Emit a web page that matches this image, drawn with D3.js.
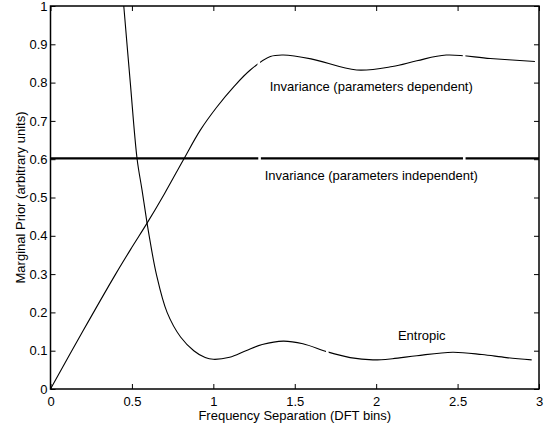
<!DOCTYPE html>
<html><head><meta charset="utf-8">
<script src="https://cdn.jsdelivr.net/npm/d3@7"></script>
<style>
body{margin:0;background:#fff;}
text{font-family:"Liberation Sans",Arial,sans-serif;fill:#000;}
</style></head>
<body><svg id="c" width="550" height="432"></svg>
<script>
// Data
const entropicX = [0.45,0.49,0.532,0.562,0.593,0.606,0.65,0.716,0.8,0.88,0.95,1.0,1.1,1.2,1.3,1.43,1.55,1.7,1.84,1.98,2.1,2.25,2.47,2.65,2.8,2.955];
const entropicY = [1.0,0.8,0.6,0.52,0.433,0.4,0.3,0.2,0.135,0.1,0.082,0.0775,0.083,0.1,0.116,0.125,0.118,0.097,0.082,0.076,0.079,0.087,0.096,0.09,0.082,0.076];
const dependentX = [0,0.2,0.4,0.5,0.593,0.7,0.818,0.92,1.023,1.125,1.227,1.35,1.43,1.6,1.88,2.1,2.25,2.43,2.7,2.975];
const dependentY = [0,0.152,0.30,0.37,0.433,0.51,0.6,0.676,0.737,0.789,0.833,0.868,0.872,0.862,0.833,0.842,0.857,0.872,0.863,0.855];
const independentX = [0,3];
const independentY = [0.602,0.602];
const lineBreaks = {dependent:[1.279,2.54], independent:[1.284,2.541], entropic:[1.70]};
const xTicks = [0,0.5,1,1.5,2,2.5,3];
const yTicks = [0,0.1,0.2,0.3,0.4,0.5,0.6,0.7,0.8,0.9,1];
const labels = [
  {text:"Invariance (parameters dependent)", x:1.97, y:0.79},
  {text:"Invariance (parameters independent)", x:1.97, y:0.557},
  {text:"Entropic", x:2.28, y:0.139}
];
const xTitle = "Frequency Separation (DFT bins)";
const yTitle = "Marginal Prior (arbitrary units)";

const svg = d3.select("#c");
const L=50.5, R=539, T=6, B=389;
const x = d3.scaleLinear().domain([0,3]).range([L,R]);
const y = d3.scaleLinear().domain([0,1]).range([B,T]);
const fmt = d => String(+d.toFixed(2));

svg.append("defs").append("clipPath").attr("id","plot")
  .append("rect").attr("x",L).attr("y",T).attr("width",R-L).attr("height",B-T);

function addMask(id, breaks){
  const m = svg.select("defs").append("mask").attr("id",id).attr("maskUnits","userSpaceOnUse")
    .attr("x",0).attr("y",0).attr("width",550).attr("height",432);
  m.append("rect").attr("x",0).attr("y",0).attr("width",550).attr("height",432).attr("fill","#fff");
  breaks.forEach(b=>{
    m.append("rect").attr("x",x(b)-1.3).attr("y",0).attr("width",2.6).attr("height",432).attr("fill","#000");
  });
}
addMask("mDep", lineBreaks.dependent);
addMask("mInd", lineBreaks.independent);
addMask("mEnt", lineBreaks.entropic);

const line = d3.line().x(d=>x(d[0])).y(d=>y(d[1])).curve(d3.curveCatmullRom.alpha(0.5));
const g = svg.append("g").attr("clip-path","url(#plot)");
g.append("path").datum(d3.zip(dependentX,dependentY)).attr("d",line)
  .attr("fill","none").attr("stroke","#000").attr("stroke-width",1.1).attr("mask","url(#mDep)");
g.append("path").datum(d3.zip(entropicX,entropicY)).attr("d",line)
  .attr("fill","none").attr("stroke","#000").attr("stroke-width",1.1).attr("mask","url(#mEnt)");
g.append("path").datum(d3.zip(independentX,independentY)).attr("d",d3.line().x(d=>x(d[0])).y(d=>y(d[1])))
  .attr("fill","none").attr("stroke","#000").attr("stroke-width",2.2).attr("mask","url(#mInd)");

// Axes (ticks inward), plus mirrored top/right
const tl = 5;
const ax = svg.append("g").attr("transform",`translate(0,${B})`)
  .call(d3.axisBottom(x).tickValues(xTicks).tickFormat(fmt).tickSizeInner(-tl).tickSizeOuter(0).tickPadding(10));
const ay = svg.append("g").attr("transform",`translate(${L},0)`)
  .call(d3.axisLeft(y).tickValues(yTicks).tickFormat(fmt).tickSizeInner(-tl).tickSizeOuter(0).tickPadding(3));
const at = svg.append("g").attr("transform",`translate(0,${T})`)
  .call(d3.axisTop(x).tickValues(xTicks).tickFormat("").tickSizeInner(-tl).tickSizeOuter(0));
const ar = svg.append("g").attr("transform",`translate(${R},0)`)
  .call(d3.axisRight(y).tickValues(yTicks).tickFormat("").tickSizeInner(-tl).tickSizeOuter(0));
[ax,ay,at,ar].forEach(a=>{
  a.selectAll("text").attr("font-family","Liberation Sans, Arial, sans-serif").attr("font-size",13).attr("fill","#000");
  a.selectAll("line").attr("stroke","#000").attr("stroke-width",1);
  a.select(".domain").remove();
});
ax.selectAll("text").attr("dy","0.71em").attr("y",8);
svg.append("rect").attr("x",L).attr("y",T).attr("width",R-L).attr("height",B-T)
  .attr("fill","none").attr("stroke","#000").attr("stroke-width",1.5);

// Labels
labels.forEach(l=>{
  svg.append("text").attr("x",x(l.x)).attr("y",y(l.y)).attr("text-anchor","middle")
    .attr("dominant-baseline","central").attr("font-size",13).text(l.text);
});
svg.append("text").attr("x",(L+R)/2).attr("y",420).attr("text-anchor","middle").attr("font-size",13).text(xTitle);
svg.append("text").attr("transform",`translate(24.5,${(T+B)/2}) rotate(-90)`).attr("text-anchor","middle")
  .attr("font-size",13).text(yTitle);
</script></body></html>
